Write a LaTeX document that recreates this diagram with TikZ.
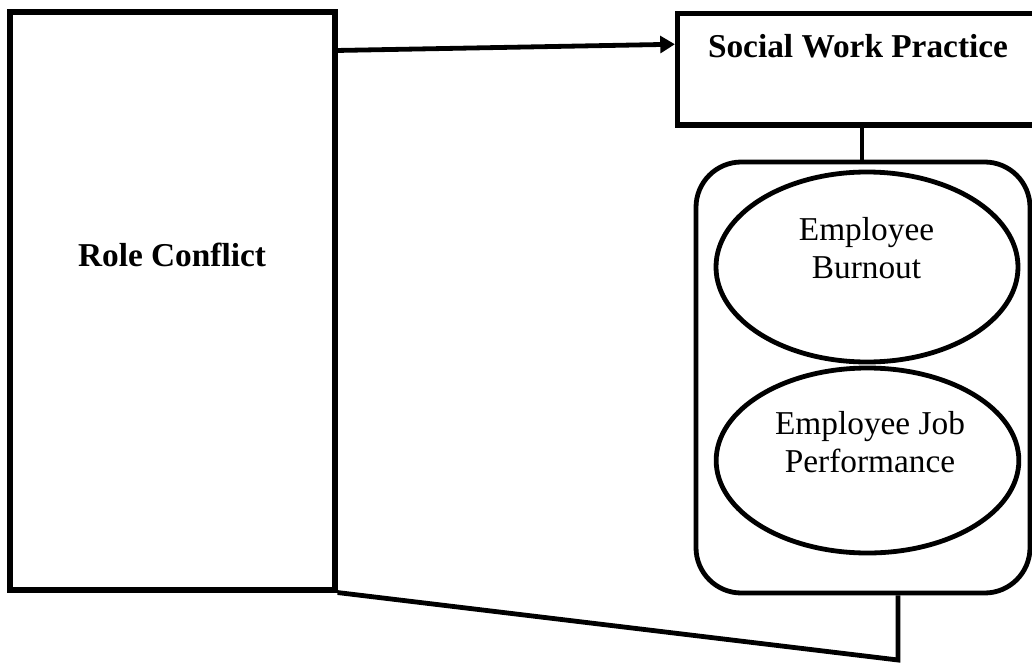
\documentclass[tikz,border=0pt]{standalone}
\usepackage{fontspec}
\setmainfont{Liberation Serif}
\usepackage{tikz}
\usetikzlibrary{arrows.meta,positioning,shapes.geometric}
\tikzset{
  box/.style={draw, line width=3.8pt, inner sep=0pt},
  group/.style={draw, line width=3.6pt, rounded corners=34pt, inner sep=0pt},
  oval/.style={draw, ellipse, line width=3.6pt, inner sep=0pt},
  big/.style={font=\fontsize{25}{28}\selectfont, align=center},
  bigbold/.style={font=\fontsize{25}{28}\selectfont\bfseries, align=center},
  link/.style={line width=3.6pt},
  arrow/.style={-{Triangle[length=11pt,width=12.5pt]}, line width=3.6pt},
}

\begin{document}
\begin{tikzpicture}[x=0.75pt, y=-0.75pt]
\useasboundingbox (0,0) rectangle (1032,664);
\clip (0,0) rectangle (1032,664);
% left block
\node[box, minimum width=243.75pt, minimum height=433.5pt] (rc) at (172.5,301) {};
\node[bigbold] (rclab) at (172,255) {Role Conflict};
% top right block
\node[box, minimum width=271.9pt, minimum height=83.6pt] (swp) at (858.75,69.25) {};
\node[bigbold] (swplab) at (858,46) {Social Work Practice};
% outcome group
\node[group, minimum width=250.5pt, minimum height=323.25pt] (grp) at (863,377.5) {};
\node[oval, minimum width=226.5pt, minimum height=142.5pt] (burn) at (867,267) {};
\node[big] (burnlab) at (866.5,248) {Employee\\Burnout};
\node[oval, minimum width=227pt, minimum height=138.75pt] (perf) at (867.5,460.5) {};
\node[big] (perflab) at (870,442) {Employee Job\\Performance};
% connectors
\draw[arrow] ([yshift=-30.75pt]rc.north east) -- ([yshift=18.75pt]swp.west);
\draw[link] (swp.south -| 862,0) -- (grp.north -| 862,0);
\coordinate (turn) at (898,660);
\draw[link] ([xshift=26.25pt]grp.south) -- (turn) -- (rc.south east);
\end{tikzpicture}
\end{document}
